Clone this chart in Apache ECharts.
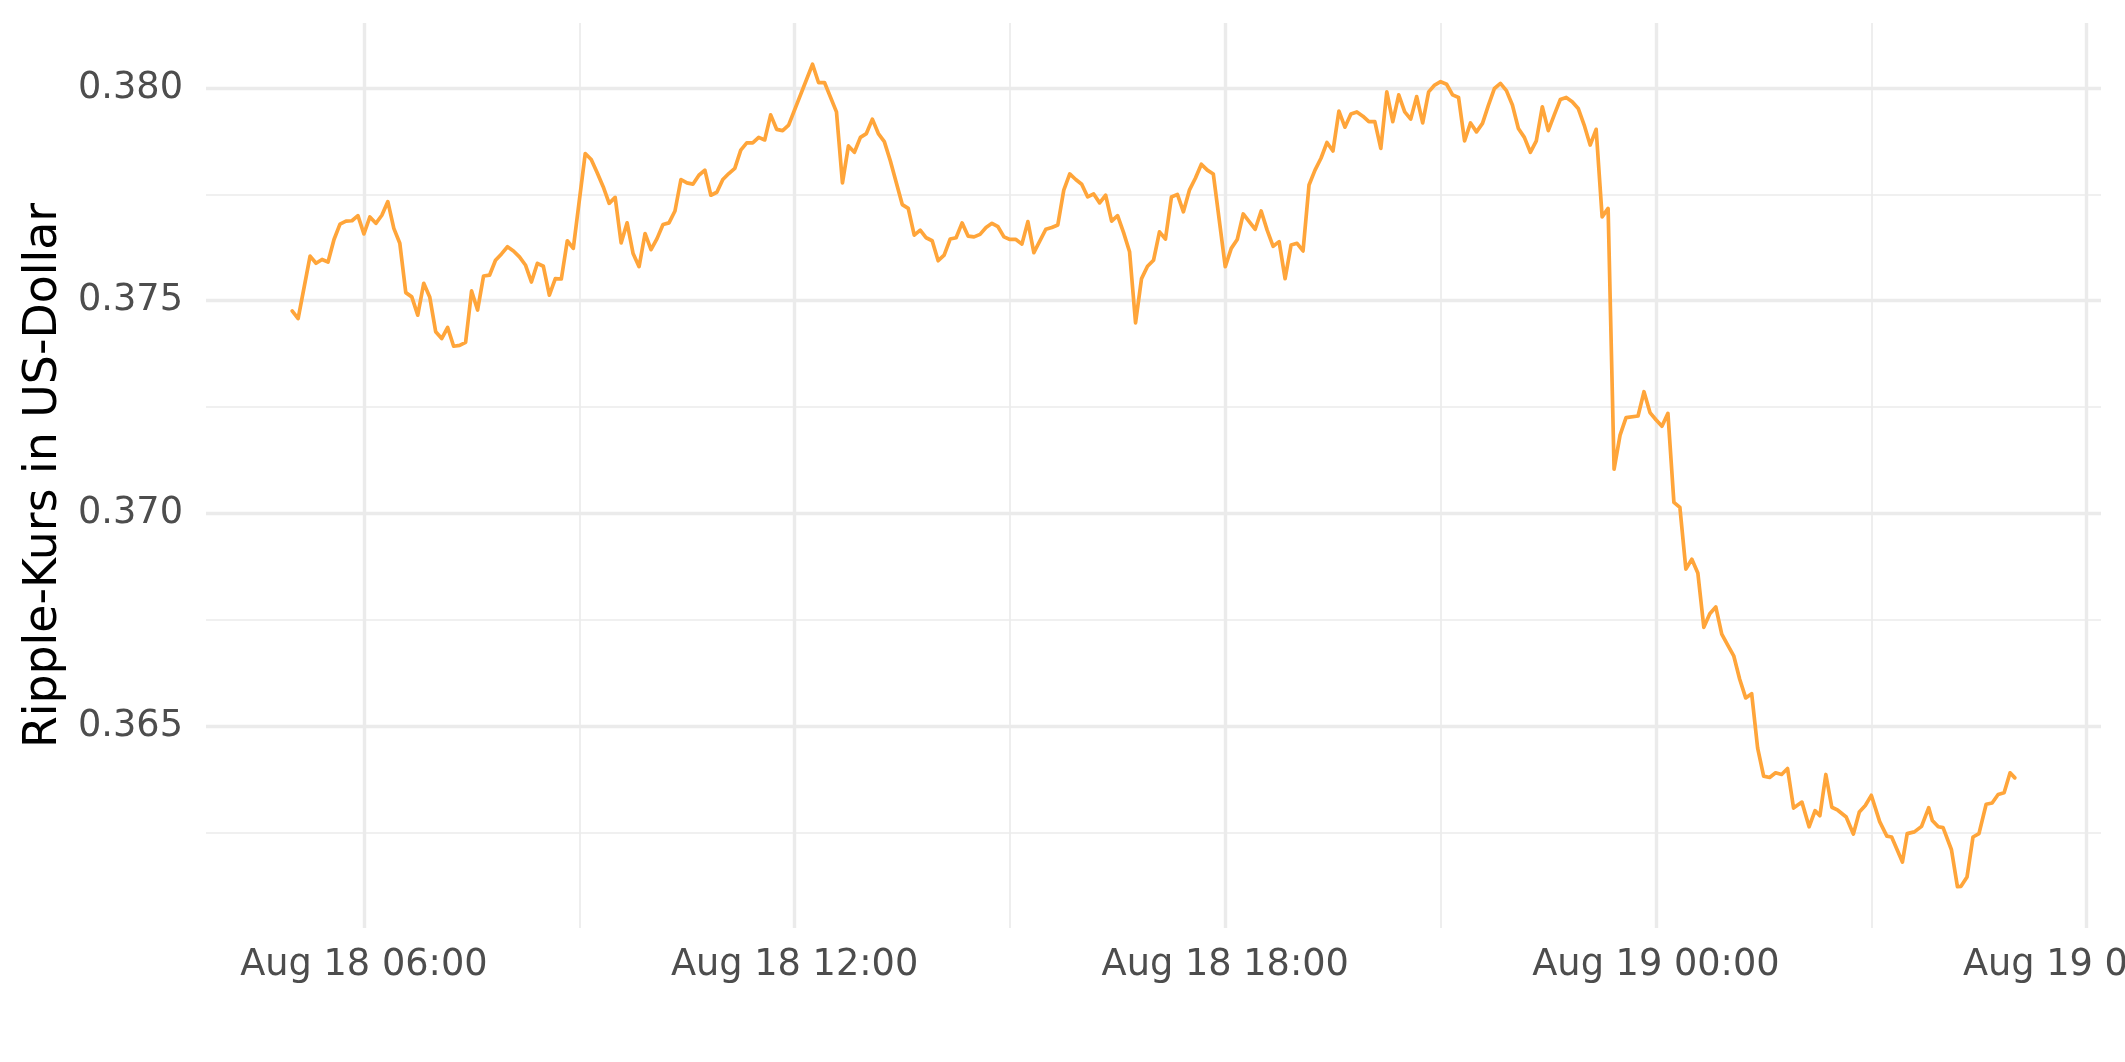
<!DOCTYPE html>
<html><head><meta charset="utf-8">
<script src="https://cdn.jsdelivr.net/npm/echarts@6/dist/echarts.min.js"></script>
<style>html,body{margin:0;padding:0;background:#fff}#c{width:2125px;height:1062px}</style>
</head><body><div id="c"></div>
<script>
const YEAR = 2022;
const times = [
'08-18 05:00','08-18 05:05','08-18 05:15','08-18 05:20','08-18 05:25','08-18 05:30','08-18 05:35','08-18 05:40','08-18 05:45','08-18 05:50','08-18 05:55',
'08-18 06:00','08-18 06:05','08-18 06:10','08-18 06:15','08-18 06:20','08-18 06:25','08-18 06:30','08-18 06:35','08-18 06:40','08-18 06:45','08-18 06:50','08-18 06:55',
'08-18 07:00','08-18 07:05','08-18 07:10','08-18 07:15','08-18 07:20','08-18 07:25','08-18 07:30','08-18 07:35','08-18 07:40','08-18 07:45','08-18 07:50','08-18 07:55',
'08-18 08:00','08-18 08:05','08-18 08:10','08-18 08:15','08-18 08:20','08-18 08:25','08-18 08:30','08-18 08:35','08-18 08:40','08-18 08:45','08-18 08:50','08-18 08:55',
'08-18 09:05','08-18 09:10','08-18 09:15','08-18 09:20','08-18 09:25','08-18 09:30','08-18 09:35','08-18 09:40','08-18 09:45','08-18 09:50','08-18 09:55',
'08-18 10:00','08-18 10:05','08-18 10:10','08-18 10:15','08-18 10:20','08-18 10:25','08-18 10:30','08-18 10:35','08-18 10:40','08-18 10:45','08-18 10:50','08-18 10:55',
'08-18 11:00','08-18 11:05','08-18 11:10','08-18 11:15','08-18 11:20','08-18 11:25','08-18 11:30','08-18 11:35','08-18 11:40','08-18 11:45','08-18 11:50','08-18 11:55',
'08-18 12:15','08-18 12:20','08-18 12:25','08-18 12:35','08-18 12:40','08-18 12:45','08-18 12:50','08-18 12:55',
'08-18 13:00','08-18 13:05','08-18 13:10','08-18 13:15','08-18 13:20','08-18 13:30','08-18 13:35','08-18 13:40','08-18 13:45','08-18 13:50','08-18 13:55',
'08-18 14:00','08-18 14:05','08-18 14:10','08-18 14:15','08-18 14:20','08-18 14:25','08-18 14:30','08-18 14:35','08-18 14:40','08-18 14:45','08-18 14:50','08-18 14:55',
'08-18 15:00','08-18 15:05','08-18 15:10','08-18 15:15','08-18 15:20','08-18 15:30','08-18 15:35','08-18 15:40','08-18 15:45','08-18 15:50','08-18 15:55',
'08-18 16:00','08-18 16:05','08-18 16:10','08-18 16:15','08-18 16:20','08-18 16:25','08-18 16:30','08-18 16:35','08-18 16:40','08-18 16:45','08-18 16:50','08-18 16:55',
'08-18 17:00','08-18 17:05','08-18 17:10','08-18 17:15','08-18 17:20','08-18 17:25','08-18 17:30','08-18 17:35','08-18 17:40','08-18 17:45','08-18 17:50',
'08-18 18:00','08-18 18:05','08-18 18:10','08-18 18:15','08-18 18:20','08-18 18:25','08-18 18:30','08-18 18:35','08-18 18:40','08-18 18:45','08-18 18:50','08-18 18:55',
'08-18 19:00','08-18 19:05','08-18 19:10','08-18 19:15','08-18 19:20','08-18 19:25','08-18 19:30','08-18 19:35','08-18 19:40','08-18 19:45','08-18 19:50','08-18 19:55',
'08-18 20:00','08-18 20:05','08-18 20:10','08-18 20:15','08-18 20:20','08-18 20:25','08-18 20:30','08-18 20:35','08-18 20:40','08-18 20:45','08-18 20:50','08-18 20:55',
'08-18 21:00','08-18 21:05','08-18 21:10','08-18 21:15','08-18 21:20','08-18 21:25','08-18 21:30','08-18 21:35','08-18 21:40','08-18 21:45','08-18 21:50','08-18 21:55',
'08-18 22:00','08-18 22:05','08-18 22:10','08-18 22:15','08-18 22:20','08-18 22:25','08-18 22:30','08-18 22:35','08-18 22:40','08-18 22:45','08-18 22:50','08-18 22:55',
'08-18 23:00','08-18 23:05','08-18 23:10','08-18 23:15','08-18 23:20','08-18 23:25','08-18 23:30','08-18 23:35','08-18 23:45','08-18 23:50','08-18 23:55',
'08-19 00:00','08-19 00:05','08-19 00:10','08-19 00:15','08-19 00:20','08-19 00:25','08-19 00:30','08-19 00:35','08-19 00:40','08-19 00:45','08-19 00:50','08-19 00:55',
'08-19 01:00','08-19 01:05','08-19 01:10','08-19 01:15','08-19 01:20','08-19 01:25','08-19 01:30','08-19 01:35','08-19 01:40','08-19 01:45','08-19 01:50','08-19 01:55',
'08-19 02:02','08-19 02:08','08-19 02:13','08-19 02:17','08-19 02:22','08-19 02:27','08-19 02:32','08-19 02:39','08-19 02:45','08-19 02:50','08-19 02:55',
'08-19 03:00','08-19 03:07','08-19 03:13','08-19 03:17','08-19 03:26','08-19 03:30','08-19 03:36','08-19 03:42','08-19 03:48','08-19 03:51','08-19 03:56',
'08-19 04:00','08-19 04:07','08-19 04:12','08-19 04:15','08-19 04:20','08-19 04:25','08-19 04:30','08-19 04:36','08-19 04:41','08-19 04:46','08-19 04:51','08-19 04:56',
'08-19 05:00'
];
const prices = [
0.37476,0.37458,0.37605,0.37588,0.37597,0.37591,0.37644,0.37680,0.37687,0.37688,0.37700,
0.37657,0.37697,0.37682,0.37701,0.37733,0.37670,0.37635,0.37519,0.37509,0.37466,0.37541,0.37509,
0.37427,0.37411,0.37437,0.37393,0.37395,0.37402,0.37523,0.37478,0.37558,0.37560,0.37595,0.37610,
0.37627,0.37617,0.37603,0.37584,0.37544,0.37588,0.37581,0.37513,0.37552,0.37551,0.37641,0.37623,
0.37846,0.37832,0.37801,0.37768,0.37729,0.37743,0.37636,0.37683,0.37611,0.37580,0.37658,
0.37620,0.37646,0.37679,0.37683,0.37711,0.37785,0.37777,0.37774,0.37795,0.37807,0.37748,0.37755,
0.37785,0.37799,0.37811,0.37854,0.37871,0.37871,0.37884,0.37878,0.37937,0.37903,0.37900,0.37913,
0.38056,0.38013,0.38013,0.37944,0.37777,0.37864,0.37849,0.37884,
0.37893,0.37927,0.37893,0.37874,0.37829,0.37726,0.37717,0.37654,0.37666,0.37648,0.37641,
0.37594,0.37607,0.37645,0.37648,0.37683,0.37652,0.37650,0.37656,0.37672,0.37682,0.37674,0.37650,
0.37644,0.37644,0.37633,0.37686,0.37613,0.37668,0.37672,0.37678,0.37760,0.37798,0.37785,
0.37774,0.37744,0.37751,0.37730,0.37748,0.37687,0.37700,0.37660,0.37615,0.37448,0.37552,0.37581,
0.37595,0.37662,0.37645,0.37744,0.37750,0.37709,0.37760,0.37788,0.37821,0.37807,0.37798,
0.37580,0.37623,0.37644,0.37704,0.37686,0.37668,0.37711,0.37666,0.37628,0.37639,0.37552,0.37631,
0.37635,0.37617,0.37772,0.37807,0.37835,0.37872,0.37852,0.37946,0.37908,0.37939,0.37944,0.37934,
0.37921,0.37921,0.37858,0.37991,0.37921,0.37984,0.37944,0.37927,0.37980,0.37918,0.37991,0.38007,
0.38015,0.38009,0.37984,0.37978,0.37876,0.37918,0.37897,0.37917,0.37960,0.37999,0.38011,0.37994,
0.37960,0.37905,0.37884,0.37849,0.37876,0.37956,0.37900,0.37937,0.37973,0.37978,0.37968,0.37952,
0.37913,0.37866,0.37903,0.37697,0.37717,0.37104,0.37184,0.37225,0.37229,0.37286,0.37237,
0.37220,0.37205,0.37235,0.37026,0.37014,0.36869,0.36892,0.36860,0.36732,0.36764,0.36780,0.36716,
0.36690,0.36665,0.36610,0.36566,0.36576,0.36448,0.36382,0.36379,0.36390,0.36386,0.36400,0.36307,
0.36321,0.36263,0.36301,0.36289,0.36386,0.36309,0.36302,0.36286,0.36246,0.36298,0.36313,
0.36337,0.36275,0.36241,0.36239,0.36180,0.36247,0.36251,0.36264,0.36308,0.36278,0.36263,
0.36261,0.36209,0.36122,0.36123,0.36145,0.36239,0.36247,0.36316,0.36319,0.36339,0.36343,0.36390,
0.36378
];
const xMajorTicks = ['08-18 06:00','08-18 12:00','08-18 18:00','08-19 00:00','08-19 06:00'];
const xMajorLabels = ['Aug 18 06:00','Aug 18 12:00','Aug 18 18:00','Aug 19 00:00','Aug 19 06:00'];
const xMinorTicks = ['08-18 09:00','08-18 15:00','08-18 21:00','08-19 03:00'];
const xRange = ['08-18 03:48','08-19 06:12'];
const yMajorTicks = [0.365, 0.370, 0.375, 0.380];
const yMinorTicks = [0.3625, 0.3675, 0.3725, 0.3775];
const yRange = [0.36025, 0.38153];
const yTitle = 'Ripple-Kurs in US-Dollar';

function toMs(s) {
  const [md, hm] = s.split(' ');
  const [mo, d] = md.split('-').map(Number);
  const [h, mi] = hm.split(':').map(Number);
  return Date.UTC(YEAR, mo - 1, d, h, mi);
}
const seriesData = times.map((t, i) => [toMs(t), prices[i]]);
const majorMs = xMajorTicks.map(toMs);
const minorMs = xMinorTicks.map(toMs);
const labelMap = {};
majorMs.forEach((v, i) => { labelMap[v] = xMajorLabels[i]; });

const FONT = 'DejaVu Sans';
const GRID = '#ebebeb';
const chart = echarts.init(document.getElementById('c'), null, {renderer: 'canvas'});
chart.setOption({
  animation: false,
  backgroundColor: '#ffffff',
  grid: {left: 206, right: 24, top: 23, bottom: 134, containLabel: false, outerBoundsMode: 'none'},
  xAxis: [{
    type: 'value', min: toMs(xRange[0]), max: toMs(xRange[1]),
    axisLine: {show: false},
    axisTick: {show: false, customValues: majorMs},
    axisLabel: {customValues: majorMs, formatter: v => labelMap[v] || '', color: '#4d4d4d',
      fontSize: 36.7, fontFamily: FONT, margin: 19, hideOverlap: false},
    splitLine: {show: true, lineStyle: {color: GRID, width: 3.4}}
  }, {
    type: 'value', position: 'top', min: toMs(xRange[0]), max: toMs(xRange[1]),
    axisLine: {show: false},
    axisTick: {show: false, customValues: minorMs},
    axisLabel: {show: false, customValues: minorMs},
    splitLine: {show: true, lineStyle: {color: GRID, width: 1.7}}
  }],
  yAxis: [{
    type: 'value', min: yRange[0], max: yRange[1],
    name: yTitle, nameLocation: 'middle', nameGap: 139, nameRotate: 90,
    nameTextStyle: {fontSize: 45.8, fontFamily: FONT, color: '#000000'},
    axisLine: {show: false},
    axisTick: {show: false, customValues: yMajorTicks},
    axisLabel: {customValues: yMajorTicks, formatter: v => v.toFixed(3), color: '#4d4d4d',
      fontSize: 36.7, fontFamily: FONT, margin: 23},
    splitLine: {show: true, lineStyle: {color: GRID, width: 3.4}}
  }, {
    type: 'value', position: 'right', min: yRange[0], max: yRange[1],
    axisLine: {show: false},
    axisTick: {show: false, customValues: yMinorTicks},
    axisLabel: {show: false, customValues: yMinorTicks},
    splitLine: {show: true, lineStyle: {color: GRID, width: 1.7}}
  }],
  series: [{
    type: 'line', xAxisIndex: 0, yAxisIndex: 0, data: seriesData,
    showSymbol: false, symbol: 'none', smooth: false,
    lineStyle: {color: '#FFA53A', width: 3.7, join: 'round', cap: 'round'},
    itemStyle: {color: '#FFA53A'}, z: 5
  }]
});
</script>
</body></html>
